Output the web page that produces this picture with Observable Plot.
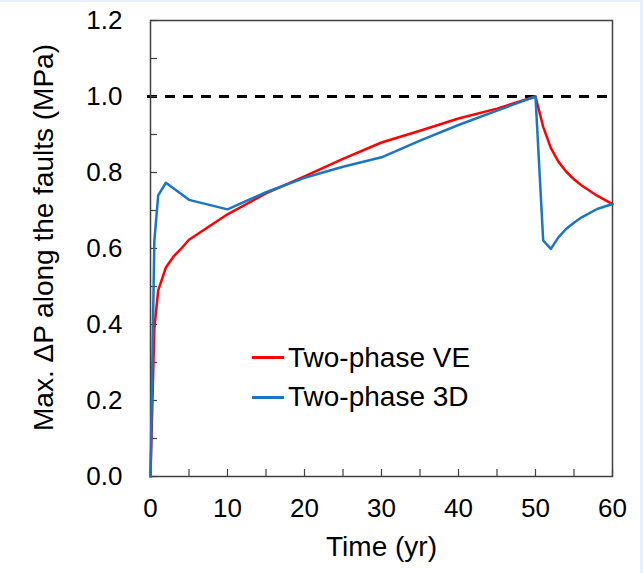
<!DOCTYPE html>
<html>
<head>
<meta charset="utf-8">
<script src="https://cdn.jsdelivr.net/npm/d3@7"></script>
<script src="https://cdn.jsdelivr.net/npm/@observablehq/plot@0.6"></script>
<style>
  html, body { margin: 0; padding: 0; background: #e8f0fb; }
  #page { position: relative; width: 643px; height: 573px; overflow: hidden; }
  #paper { position: absolute; left: 0; top: 2px; width: 640px; height: 571px; background: #ffffff; }
  #chart { position: absolute; left: 0; top: 0; }
  #legend { position: absolute; left: 252px; top: 338px; font-family: "Liberation Sans", Arial, sans-serif; font-size: 28px; color: #000; }
  .item { display: flex; align-items: center; height: 39.5px; }
  .swatch { width: 32px; height: 3px; margin-right: 4px; }
</style>
</head>
<body>
<div id="page">
  <div id="paper"></div>
  <div id="chart"></div>
  <div id="legend"></div>
</div>
<script>
// Time axis (yr) and series values (MPa)
const timeVE = [0, 0.5, 1, 2, 3, 4, 5, 10, 15, 20, 25, 30, 35, 40, 45, 50, 51, 52, 53, 54, 55, 56, 58, 60];
const valuesVE = [0, 0.39, 0.49, 0.55, 0.579, 0.60, 0.623, 0.69, 0.745, 0.79, 0.836, 0.879, 0.91, 0.942, 0.968, 1.0, 0.92, 0.864, 0.828, 0.802, 0.782, 0.766, 0.739, 0.717];

const time3D = [0, 0.5, 1, 2, 5, 10, 15, 20, 25, 30, 35, 40, 45, 50, 51, 52, 53, 54, 55, 56, 58, 60];
const values3D = [0, 0.62, 0.74, 0.773, 0.728, 0.703, 0.748, 0.786, 0.815, 0.840, 0.884, 0.925, 0.963, 1.0, 0.621, 0.599, 0.63, 0.652, 0.668, 0.682, 0.704, 0.717];

const seriesNames = ["Two-phase VE", "Two-phase 3D"];
const seriesColors = ["#ff0000", "#1a75c4"];
const thresholdValue = [1.0];

const xTicks = [0, 10, 20, 30, 40, 50, 60];
const xMinorTicks = [0, 5, 10, 15, 20, 25, 30, 35, 40, 45, 50, 55, 60];
const yTicks = [0, 0.2, 0.4, 0.6, 0.8, 1.0, 1.2];
const yMinorTicks = [0, 0.1, 0.2, 0.3, 0.4, 0.5, 0.6, 0.7, 0.8, 0.9, 1.0, 1.1, 1.2];
const xLabel = "Time (yr)";
const yLabel = "Max. ΔP along the faults (MPa)";

const veData = timeVE.map((t, i) => ({t, v: valuesVE[i]}));
const d3Data = time3D.map((t, i) => ({t, v: values3D[i]}));

const font = "Liberation Sans, Arial, sans-serif";
const axisColor = "#404040";

const chart = Plot.plot({
  width: 643,
  height: 573,
  marginLeft: 150,
  marginRight: 31,
  marginTop: 20,
  marginBottom: 97,
  style: {background: "transparent", fontFamily: font, fontSize: "26px", color: "#000"},
  x: {domain: [0, 60]},
  y: {domain: [0, 1.2]},
  marks: [
    Plot.ruleY(thresholdValue, {stroke: "#000", strokeWidth: 3, strokeDasharray: "10,8", insetLeft: -3}),
    Plot.frame({stroke: axisColor, strokeWidth: 1.5}),
    Plot.axisY({ticks: yMinorTicks, tickSize: -7, text: null, label: null, stroke: axisColor, strokeWidth: 1.2}),
    Plot.axisY({ticks: yTicks, tickSize: 0, tickPadding: 28, tickFormat: d3.format(".1f"), label: null, fontSize: 26, fill: "#000"}),
    Plot.axisX({ticks: xMinorTicks, tickSize: -7, text: null, label: null, stroke: axisColor, strokeWidth: 1.2}),
    Plot.axisX({ticks: xTicks, tickSize: 0, tickPadding: 22, tickFormat: d3.format("d"), label: null, fontSize: 26, fill: "#000"}),
    Plot.line(veData, {x: "t", y: "v", stroke: seriesColors[0], strokeWidth: 2.5}),
    Plot.line(d3Data, {x: "t", y: "v", stroke: seriesColors[1], strokeWidth: 2.5}),
    Plot.text([xLabel], {frameAnchor: "bottom", textAnchor: "middle", dy: 71, lineAnchor: "middle", fontSize: 28, fill: "#000"}),
    Plot.text([yLabel], {frameAnchor: "left", textAnchor: "middle", rotate: -90, dx: -106, dy: -11, lineAnchor: "middle", fontSize: 28, fill: "#000"})
  ]
});
document.getElementById("chart").appendChild(chart);

const legend = document.getElementById("legend");
seriesNames.forEach((name, i) => {
  const item = document.createElement("div");
  item.className = "item";
  const sw = document.createElement("div");
  sw.className = "swatch";
  sw.style.background = seriesColors[i];
  const label = document.createElement("span");
  label.textContent = name;
  item.appendChild(sw);
  item.appendChild(label);
  legend.appendChild(item);
});
</script>
</body>
</html>
